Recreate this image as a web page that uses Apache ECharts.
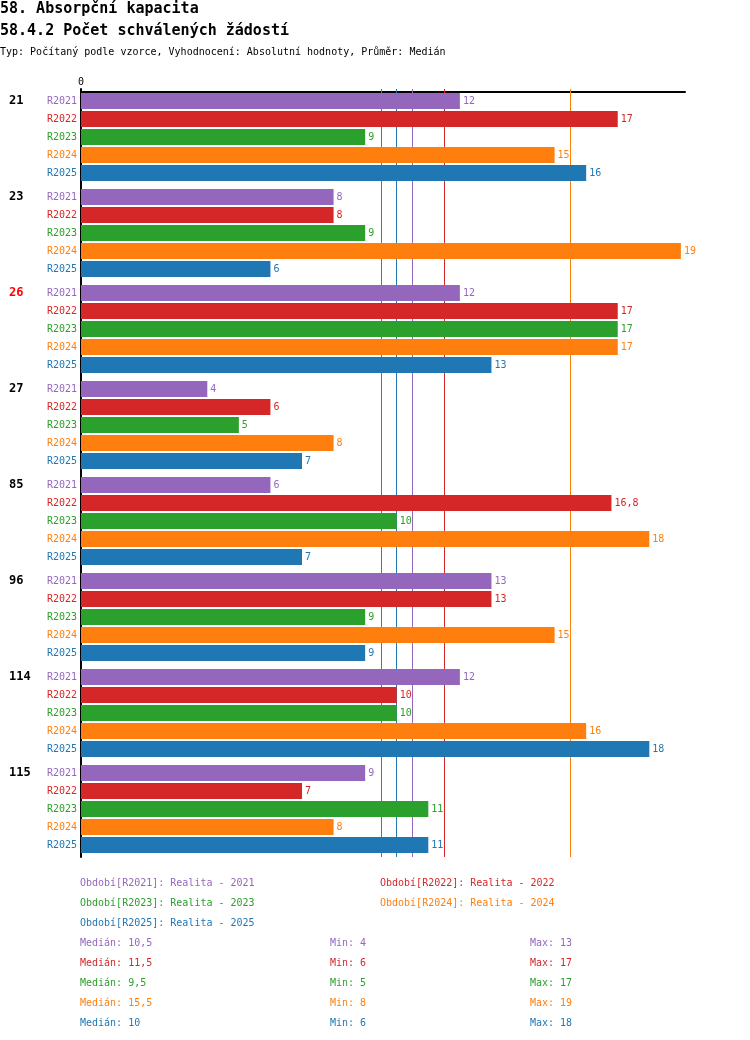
<!DOCTYPE html>
<html>
<head>
<meta charset="utf-8">
<script src="https://cdn.jsdelivr.net/npm/echarts@6/dist/echarts.min.js"></script>
<style>
  html, body { margin: 0; padding: 0; background: #fff; }
  #chart { width: 750px; height: 1040px; }
</style>
</head>
<body>
<div id="chart"></div>
<script>
// data
var groups = ['21', '23', '26', '27', '85', '96', '114', '115'];
var highlightGroup = '26';
var periods = ['R2021', 'R2022', 'R2023', 'R2024', 'R2025'];
var periodNames = ['Realita - 2021', 'Realita - 2022', 'Realita - 2023', 'Realita - 2024', 'Realita - 2025'];
var r2021 = [12, 8, 12, 4, 6, 13, 12, 9];
var r2022 = [17, 8, 17, 6, 16.8, 13, 10, 7];
var r2023 = [9, 9, 17, 5, 10, 9, 10, 11];
var r2024 = [15, 19, 17, 8, 18, 15, 16, 8];
var r2025 = [16, 6, 13, 7, 7, 9, 18, 11];
var values = [r2021, r2022, r2023, r2024, r2025];
var colors = ['#9467bd', '#d62728', '#2ca02c', '#ff7f0e', '#1f77b4'];

var mono = '"DejaVu Sans Mono", "Liberation Mono", monospace';

median = (arr) => {
  var s = arr.slice().sort((a, b) => a - b);
  var m = Math.floor(s.length / 2);
  return s.length % 2 ? s[m] : (s[m - 1] + s[m]) / 2;
};
fmt = (v) => String(v).replace('.', ',');

// period names stacked beside each bar of a group
var rich = {};
periods.forEach((p, i) => {
  rich['s' + i] = { color: colors[i], fontSize: 10, fontFamily: mono, lineHeight: 18, align: 'right' };
});

// group name on the first row, empty rows below
var groupRich = {
  g: { color: '#000', fontSize: 12, fontWeight: 'bold', fontFamily: mono, lineHeight: 18, align: 'left' },
  h: { color: '#ff0000', fontSize: 12, fontWeight: 'bold', fontFamily: mono, lineHeight: 18, align: 'left' },
  e: { fontSize: 10, lineHeight: 18 }
};

var series = periods.map((p, i) => ({
  name: p,
  type: 'bar',
  yAxisIndex: 0,
  data: values[i],
  barWidth: 16,
  barGap: '12.5%',
  itemStyle: { color: colors[i] },
  label: {
    show: true,
    position: 'right',
    distance: 3,
    color: colors[i],
    fontSize: 10,
    fontFamily: mono,
    formatter: (prm) => fmt(prm.value)
  },
  markLine: {
    z: 1,
    silent: true,
    symbol: 'none',
    label: { show: false },
    lineStyle: { color: colors[i], width: 1, type: 'solid' },
    data: [{ xAxis: median(values[i]) }]
  }
}));

// texts: titles, legend, statistics
var graphics = [
  { type: 'text', left: 0, top: 2, style: { text: '58. Absorpční kapacita', font: 'bold 15px ' + mono, fill: '#000' } },
  { type: 'text', left: 0, top: 24, style: { text: '58.4.2 Počet schválených žádostí', font: 'bold 15px ' + mono, fill: '#000' } },
  { type: 'text', left: 0, top: 47, style: { text: 'Typ: Počítaný podle vzorce, Vyhodnocení: Absolutní hodnoty, Průměr: Medián', font: '10px ' + mono, fill: '#000' } }
];
periods.forEach((p, i) => {
  graphics.push({
    type: 'text',
    left: i % 2 ? 380 : 80,
    top: 878 + Math.floor(i / 2) * 20,
    style: { text: 'Období[' + p + ']: ' + periodNames[i], font: '10px ' + mono, fill: colors[i] }
  });
});
values.forEach((v, i) => {
  var y = 938 + i * 20;
  graphics.push({ type: 'text', left: 80, top: y, style: { text: 'Medián: ' + fmt(median(v)), font: '10px ' + mono, fill: colors[i] } });
  graphics.push({ type: 'text', left: 330, top: y, style: { text: 'Min: ' + fmt(Math.min.apply(null, v)), font: '10px ' + mono, fill: colors[i] } });
  graphics.push({ type: 'text', left: 530, top: y, style: { text: 'Max: ' + fmt(Math.max.apply(null, v)), font: '10px ' + mono, fill: colors[i] } });
});

var chart = echarts.init(document.getElementById('chart'), null, { renderer: 'canvas' });
chart.setOption({
  animation: false,
  backgroundColor: '#fff',
  textStyle: { fontFamily: mono },
  grid: { left: 81, top: 89, width: 604, height: 768, containLabel: false, outerBoundsMode: 'none' },
  xAxis: {
    type: 'value',
    position: 'top',
    offset: -3,
    min: 0,
    max: 19.13,
    interval: 19.13,
    axisLine: { show: true, lineStyle: { color: '#000', width: 2 } },
    axisTick: { show: false },
    splitLine: { show: false },
    axisLabel: {
      margin: 5,
      color: '#000',
      fontSize: 10,
      fontFamily: mono,
      formatter: (v) => (v === 0 ? '0' : '')
    }
  },
  yAxis: [
    {
      type: 'category',
      data: groups,
      inverse: true,
      position: 'left',
      axisLine: { show: true, lineStyle: { color: '#000', width: 2 } },
      axisTick: { show: false },
      axisLabel: {
        margin: 4,
        formatter: () => periods.map((p, i) => '{s' + i + '|' + p + '}').join('\n'),
        rich: rich
      }
    },
    {
      type: 'category',
      data: groups,
      inverse: true,
      position: 'left',
      axisLine: { show: false },
      axisTick: { show: false },
      axisLabel: {
        margin: 72,
        align: 'left',
        formatter: (g) => '{' + (g === highlightGroup ? 'h' : 'g') + '|' + g + '}' + '\n{e| }\n{e| }\n{e| }\n{e| }',
        rich: groupRich
      }
    }
  ],
  series: series,
  graphic: graphics
});
</script>
</body>
</html>
